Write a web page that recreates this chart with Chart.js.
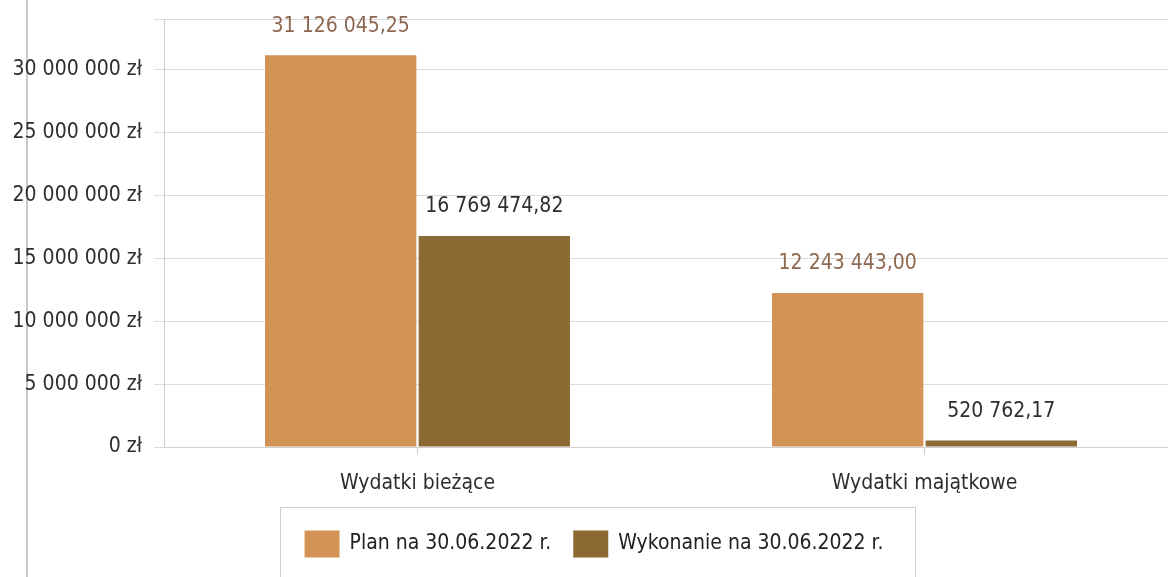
<!DOCTYPE html>
<html lang="pl">
<head>
<meta charset="utf-8">
<title>Wydatki</title>
<script src="https://cdn.jsdelivr.net/npm/chart.js@4.4.1/dist/chart.umd.min.js"></script>
<style>
  html, body { margin: 0; padding: 0; background: #fff; overflow: hidden; }
  #wrap { position: relative; width: 1178px; height: 600px; }
  #pageLine { position: absolute; left: 26px; top: 0; width: 2px; height: 600px; background: #c9c9c9; }
  #chart { position: absolute; left: 0; top: 0; }
</style>
</head>
<body>
<div id="wrap">
  <div id="pageLine"></div>
  <canvas id="chart" width="1178" height="600"></canvas>
</div>
<script>
const categories = ['Wydatki bieżące', 'Wydatki majątkowe'];
const seriesNames = ['Plan na 30.06.2022 r.', 'Wykonanie na 30.06.2022 r.'];
const planValues = [31126045.25, 12243443.00];
const executionValues = [16769474.82, 520762.17];
const yTickValues = [0, 5000000, 10000000, 15000000, 20000000, 25000000, 30000000];
const yMax = 34000000;

const colors = ['#d39356', '#8c6a34'];
const labelColors = ['#8d6850', '#2e2e2e'];
const FONT = '"DejaVu Sans Condensed", "Liberation Sans", sans-serif';

function formatNumber(v, decimals) {
  const parts = v.toFixed(decimals).split('.');
  const whole = parts[0].replace(/\B(?=(\d{3})+(?!\d))/g, ' ');
  return decimals ? whole + ',' + parts[1] : whole;
}

// value labels above the bars
const valueLabels = {
  id: 'valueLabels',
  afterDatasetsDraw(chart) {
    const ctx = chart.ctx;
    ctx.save();
    ctx.font = '21px ' + FONT;
    ctx.textAlign = 'center';
    ctx.textBaseline = 'middle';
    chart.data.datasets.forEach((ds, i) => {
      chart.getDatasetMeta(i).data.forEach((bar, j) => {
        ctx.fillStyle = labelColors[i];
        ctx.fillText(formatNumber(ds.data[j], 2), bar.x, bar.y - 29);
      });
    });
    ctx.restore();
  }
};

// boxed legend under the chart
const boxLegend = {
  id: 'boxLegend',
  afterDraw(chart) {
    const ctx = chart.ctx;
    const sq = 35, sqH = 27, gap = 10, itemGap = 22;
    ctx.save();
    ctx.font = '21px ' + FONT;
    const widths = chart.data.datasets.map(ds => sq + gap + ctx.measureText(ds.label).width);
    const total = widths.reduce((a, b) => a + b, 0) + itemGap * (widths.length - 1);
    const cy = 544;
    let x = 594 - total / 2;
    ctx.strokeStyle = '#cfcfcf';
    ctx.lineWidth = 1;
    ctx.strokeRect(Math.round(x - 25) + 0.5, 507.5, Math.round(total + 56), 120);
    ctx.textBaseline = 'middle';
    ctx.textAlign = 'left';
    chart.data.datasets.forEach((ds, i) => {
      ctx.fillStyle = ds.backgroundColor;
      ctx.fillRect(x, cy - sqH / 2, sq, sqH);
      ctx.fillStyle = '#222';
      ctx.fillText(ds.label, x + sq + gap, cy);
      x += widths[i] + itemGap;
    });
    ctx.restore();
  }
};

Chart.defaults.font.family = FONT;
Chart.defaults.font.size = 21;
Chart.defaults.color = '#333';

new Chart(document.getElementById('chart').getContext('2d'), {
  type: 'bar',
  data: {
    labels: categories,
    datasets: [
      { label: seriesNames[0], data: planValues, backgroundColor: colors[0] },
      { label: seriesNames[1], data: executionValues, backgroundColor: colors[1] }
    ]
  },
  options: {
    responsive: false,
    animation: false,
    categoryPercentage: 0.606,
    barPercentage: 0.985,
    layout: { padding: { top: 19, left: 0, right: 0, bottom: 93 } },
    plugins: {
      legend: { display: false },
      tooltip: { enabled: false }
    },
    scales: {
      x: {
        grid: { display: true, drawOnChartArea: false, offset: false, tickLength: 8, color: '#cfcfcf' },
        border: { color: '#cfcfcf' },
        ticks: { padding: 16, color: '#2e2e2e' },
        afterFit(scale) { scale.height = 60; }
      },
      y: {
        min: 0,
        max: yMax,
        grid: { color: '#dcdcdc', tickLength: 10 },
        border: { color: '#cfcfcf' },
        ticks: {
          padding: 12,
          color: '#2e2e2e',
          callback: v => (yTickValues.includes(v) ? formatNumber(v, 0) + ' zł' : '')
        },
        afterBuildTicks(scale) {
          scale.ticks = yTickValues.concat([yMax]).map(v => ({ value: v }));
        },
        afterFit(scale) { scale.width = 164; scale.paddingTop = 0; }
      }
    }
  },
  plugins: [valueLabels, boxLegend]
});
</script>
</body>
</html>
